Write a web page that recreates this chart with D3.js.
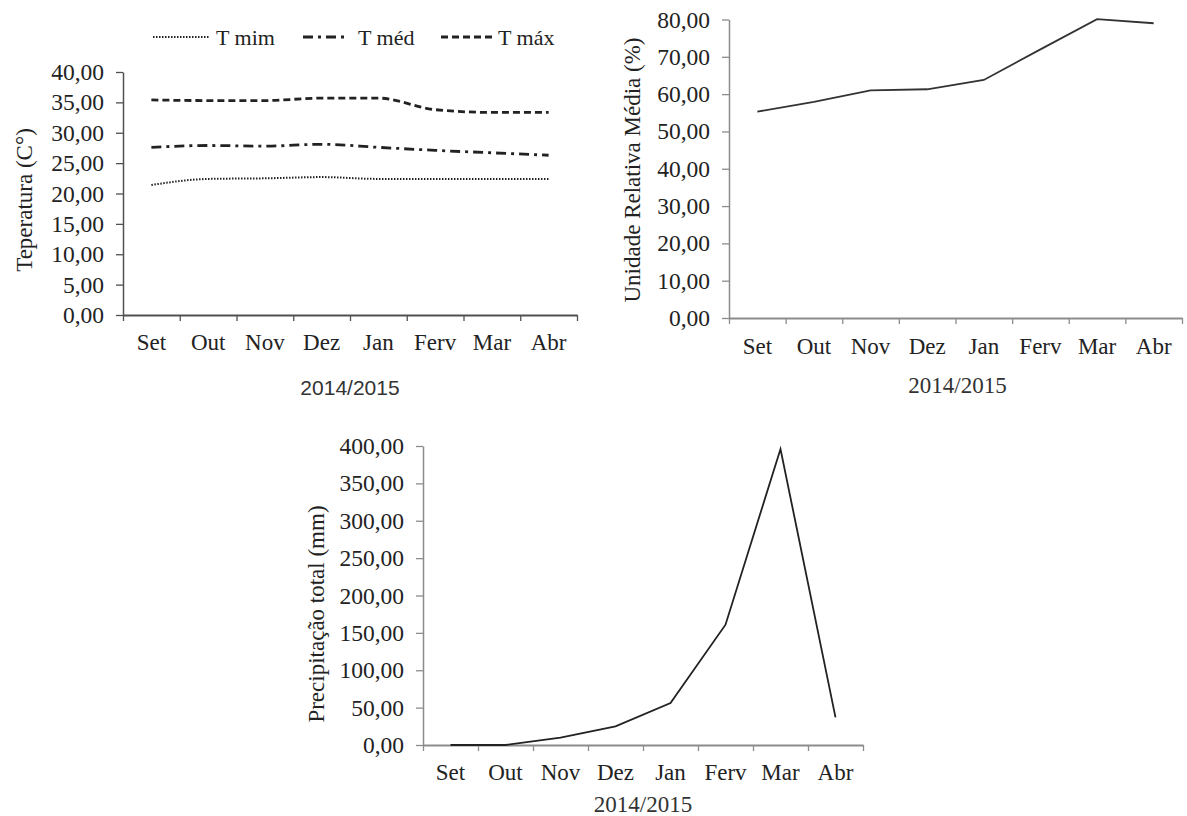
<!DOCTYPE html>
<html><head><meta charset="utf-8">
<script src="https://cdn.jsdelivr.net/npm/d3@7"></script>
<style>body{margin:0;background:#fff}</style>
</head><body>
<svg id="c" width="1187" height="816" font-family="Liberation Serif"></svg>
<script>
const months = ["Set","Out","Nov","Dez","Jan","Ferv","Mar","Abr"];
const tMin = [21.4,22.4,22.5,22.7,22.4,22.4,22.4,22.4];
const tMed = [27.6,27.9,27.8,28.1,27.6,27.1,26.7,26.3];
const tMax = [35.4,35.3,35.3,35.7,35.7,33.8,33.35,33.35];
const umidade = [55.3,57.9,61.0,61.3,63.8,72.0,80.1,79.0];
const precip = [0,0,10,25,56,161,396,37];
const tempTicks = [0,5,10,15,20,25,30,35,40];
const umidTicks = [0,10,20,30,40,50,60,70,80];
const precTicks = [0,50,100,150,200,250,300,350,400];
const xTitle = "2014/2015";

const SERIF = "Liberation Serif";
const fmt = v => d3.format(".2f")(v).replace(".", ",");
const svg = d3.select("#c");

function chart(cfg){
  const g = svg.append("g");
  const x = d3.scaleLinear().domain([0, months.length]).range([cfg.x0, cfg.x1]);
  const xb = d3.scaleBand().domain(months).range([cfg.x0, cfg.x1]);
  const y = d3.scaleLinear().domain([0, d3.max(cfg.ticks)]).range([cfg.y0, cfg.yTop]);
  // y axis
  const ya = g.append("g").attr("transform", `translate(${cfg.x0},0)`)
    .call(d3.axisLeft(y).tickValues(cfg.ticks).tickFormat(fmt).tickSize(7).tickPadding(12).tickSizeOuter(0));
  ya.attr("font-family", SERIF);
  ya.select(".domain").attr("stroke", cfg.axisColor).attr("stroke-width", 1.5);
  ya.selectAll(".tick line").attr("stroke", cfg.axisColor).attr("stroke-width", 1.3);
  ya.selectAll("text").attr("font-size", 23.5).attr("fill", "#222").attr("font-family", SERIF);
  // x axis ticks at category boundaries
  const xa = g.append("g").attr("transform", `translate(0,${cfg.y0})`)
    .call(d3.axisBottom(x).tickValues(d3.range(0, months.length + 1)).tickFormat("").tickSize(6).tickSizeOuter(0));
  xa.select(".domain").attr("stroke", cfg.axisColor).attr("stroke-width", 2);
  xa.selectAll(".tick line").attr("stroke", cfg.axisColor).attr("stroke-width", 1.3);
  // month labels
  const xl = g.append("g").attr("transform", `translate(0,${cfg.y0})`)
    .call(d3.axisBottom(xb).tickSize(0).tickPadding(cfg.labPad));
  xl.attr("font-family", SERIF);
  xl.select(".domain").remove();
  xl.selectAll("text").attr("font-size", 23).attr("fill", "#222").attr("font-family", SERIF);
  // titles
  g.append("text").attr("x", (cfg.x0 + cfg.x1) / 2 + (cfg.xtShift || 0)).attr("y", cfg.y0 + cfg.titleDy)
    .attr("text-anchor", "middle").attr("font-size", cfg.xtSize).attr("fill", "#333")
    .attr("font-family", cfg.xtFont).text(xTitle);
  g.append("text").attr("transform", `translate(${cfg.ytX},${cfg.ytY}) rotate(-90)`)
    .attr("text-anchor", "middle").attr("dominant-baseline", "central")
    .attr("font-size", 23).attr("fill", "#222").attr("font-family", SERIF).text(cfg.yTitle);
  // series
  cfg.series.forEach(s => {
    g.append("path").datum(s.values)
      .attr("fill", "none").attr("stroke", s.color || "#222")
      .attr("stroke-width", s.width).attr("stroke-dasharray", s.dash || null)
      .attr("d", d3.line().x((d, i) => x(i + 0.5)).y(d => y(d)).curve(s.curve)(s.values));
  });
  return {g, x, y};
}

const seriesT = [
  {name: "T mim", values: tMin, dash: "1.5,1.5", width: 2, curve: d3.curveMonotoneX},
  {name: "T méd", values: tMed, dash: "10,5,3,5", width: 2.8, curve: d3.curveMonotoneX},
  {name: "T máx", values: tMax, dash: "7,4", width: 2.8, curve: d3.curveMonotoneX}
];

chart({x0: 123, x1: 577, y0: 315, yTop: 72, ticks: tempTicks, axisColor: "#505050",
  labPad: 19, titleDy: 80, xtSize: 21, xtFont: "Liberation Sans",
  ytX: 24, ytY: 200, yTitle: "Teperatura (C°)", series: seriesT});

chart({x0: 729, x1: 1182, y0: 318, yTop: 19.5, ticks: umidTicks, axisColor: "#8c8c8c",
  labPad: 20, titleDy: 75, xtSize: 23, xtFont: SERIF, xtShift: 2,
  ytX: 632, ytY: 170, yTitle: "Unidade Relativa Média (%)",
  series: [{values: umidade, width: 1.8, curve: d3.curveLinear, color: "#333"}]});

chart({x0: 423, x1: 863, y0: 745, yTop: 446, ticks: precTicks, axisColor: "#8c8c8c",
  labPad: 19, titleDy: 67, xtSize: 23, xtFont: SERIF, xtShift: 0,
  ytX: 316, ytY: 614, yTitle: "Precipitação total (mm)",
  series: [{values: precip, width: 1.8, curve: d3.curveLinear, color: "#222"}]});

// legend
const leg = svg.append("g").attr("transform", "translate(0,37)");
const legPos = [{x: 153, w: 56, tx: 216}, {x: 303, w: 45, tx: 358}, {x: 441, w: 55, tx: 498}];
seriesT.forEach((s, i) => {
  const p = legPos[i];
  leg.append("line").attr("x1", p.x).attr("x2", p.x + p.w).attr("y1", 0).attr("y2", 0)
    .attr("stroke", "#222").attr("stroke-width", s.width).attr("stroke-dasharray", s.dash);
  leg.append("text").attr("x", p.tx).attr("y", 0).attr("dominant-baseline", "central")
    .attr("font-size", 22).attr("fill", "#222").attr("font-family", SERIF).text(s.name);
});
</script>
</body></html>
